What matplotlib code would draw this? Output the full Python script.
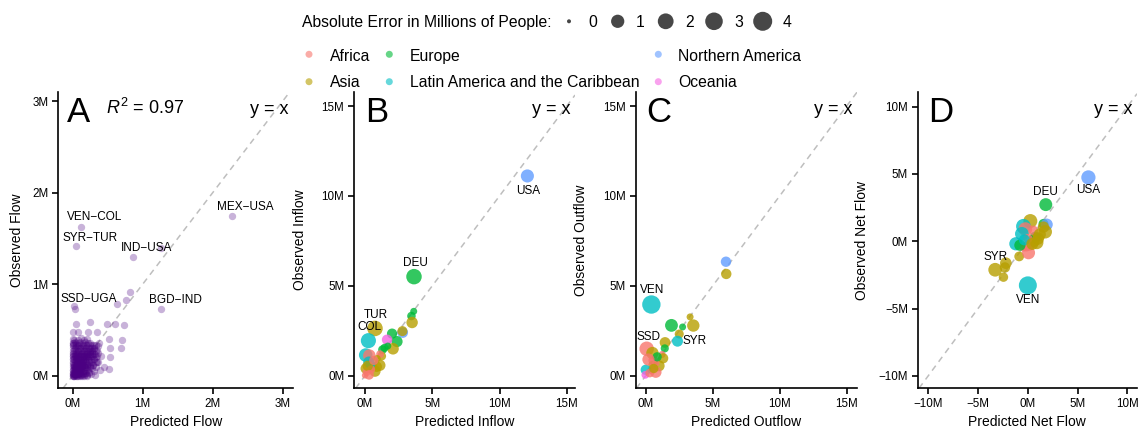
import numpy as np
import matplotlib
matplotlib.use("Agg")
import matplotlib.pyplot as plt

plt.rcParams['font.family'] = ['Liberation Sans', 'DejaVu Sans']
plt.rcParams['mathtext.fontset'] = 'custom'
plt.rcParams['mathtext.rm'] = 'Liberation Sans'
plt.rcParams['mathtext.it'] = 'Liberation Sans:italic'

# ---------------- data ----------------
regions = ["Africa", "Asia", "Europe", "Latin America and the Caribbean",
           "Northern America", "Oceania"]
region_colors = ["#F8766D", "#B79F00", "#00BA38", "#00BFC4", "#619CFF", "#F564E3"]
size_breaks = [0, 1, 2, 3, 4]

# Panel A: bilateral flows (millions)
a_pred = [2.27, 0.114, 0.047, 0.86, 1.26, 0.82, 0.76, 0.63, 0.02, 0.03, 1.26,
          0.04, 0.25, 0.49, 0.61, 0.73, 0.01, 0.07, 0.22, 0.34, 0.52, 0.70, 0.69,
          0.53, 0.53, 0.52, 0.34, 0.00, 0.45,
          0.00, 0.01, 0.02, 0.00, 0.03, 0.02, 0.05, 0.04, 0.06, 0.01, 0.08, 0.07,
          0.03, 0.10, 0.09, 0.05, 0.11, 0.12, 0.08, 0.02, 0.14, 0.13, 0.10, 0.04,
          0.16, 0.15, 0.12, 0.06, 0.00, 0.18, 0.17, 0.18, 0.14, 0.08, 0.01, 0.20,
          0.21, 0.20, 0.21, 0.16, 0.10, 0.03, 0.23, 0.24, 0.23, 0.24, 0.19, 0.12,
          0.05, 0.00, 0.26, 0.27, 0.26, 0.27, 0.27, 0.22, 0.15, 0.08, 0.02, 0.30,
          0.29, 0.30, 0.30, 0.30, 0.25, 0.18, 0.11, 0.04, 0.32, 0.33, 0.33, 0.34,
          0.33, 0.28, 0.21, 0.14, 0.07, 0.00, 0.36, 0.36, 0.36, 0.24, 0.17, 0.10,
          0.03, 0.39, 0.40, 0.00, 0.12, 0.20, 0.38,
          0.01, 0.03, 0.02, 0.04, 0.03, 0.06, 0.05, 0.07, 0.09, 0.10, 0.06, 0.12,
          0.13, 0.11, 0.15, 0.17, 0.08, 0.04, 0.02, 0.09, 0.19, 0.14, 0.22, 0.18,
          0.25, 0.05, 0.07, 0.01, 0.12, 0.16]
a_obs = [1.74, 1.63, 1.42, 1.30, 0.73, 0.91, 0.83, 0.78, 0.76, 0.73, 1.40,
         0.57, 0.59, 0.57, 0.56, 0.55, 0.48, 0.48, 0.475, 0.475, 0.40, 0.39, 0.30,
         0.30, 0.20, 0.07, 0.15, 0.36, 0.10,
         0.00, 0.01, 0.00, 0.02, 0.02, 0.04, 0.01, 0.05, 0.03, 0.06, 0.02, 0.06,
         0.08, 0.01, 0.05, 0.09, 0.04, 0.08, 0.10, 0.11, 0.02, 0.11, 0.13, 0.13,
         0.05, 0.12, 0.15, 0.15, 0.14, 0.03, 0.09, 0.16, 0.18, 0.18, 0.18, 0.01,
         0.07, 0.13, 0.20, 0.21, 0.21, 0.21, 0.04, 0.11, 0.17, 0.24, 0.24, 0.24,
         0.24, 0.25, 0.02, 0.08, 0.15, 0.21, 0.27, 0.27, 0.27, 0.27, 0.28, 0.05,
         0.12, 0.18, 0.24, 0.30, 0.30, 0.30, 0.30, 0.31, 0.01, 0.10, 0.20, 0.28,
         0.33, 0.33, 0.33, 0.34, 0.34, 0.33, 0.15, 0.25, 0.32, 0.36, 0.37, 0.37,
         0.37, 0.06, 0.22, 0.40, 0.41, 0.40, 0.36,
         0.03, 0.01, 0.02, 0.03, 0.05, 0.06, 0.04, 0.09, 0.07, 0.10, 0.12, 0.06,
         0.14, 0.17, 0.15, 0.12, 0.14, 0.17, 0.09, 0.02, 0.19, 0.22, 0.22, 0.27,
         0.26, 0.20, 0.23, 0.22, 0.01, 0.01]
# dense core of small corridors, read row by row (observed value, predicted values)
a_core_rows = [
    (0.00, [0.00, 0.02, 0.04, 0.06, 0.08, 0.10, 0.13, 0.16, 0.20]),
    (0.03, [0.01, 0.03, 0.05, 0.07, 0.09, 0.12, 0.15, 0.19, 0.23]),
    (0.06, [0.00, 0.02, 0.04, 0.06, 0.08, 0.11, 0.14, 0.18, 0.22]),
    (0.09, [0.01, 0.03, 0.05, 0.08, 0.10, 0.13, 0.17, 0.21, 0.25]),
    (0.12, [0.00, 0.02, 0.05, 0.07, 0.10, 0.13, 0.16, 0.20, 0.24, 0.29]),
    (0.15, [0.01, 0.03, 0.06, 0.09, 0.12, 0.15, 0.19, 0.23, 0.27, 0.33]),
    (0.18, [0.00, 0.02, 0.05, 0.08, 0.11, 0.15, 0.18, 0.22, 0.26, 0.31]),
    (0.21, [0.01, 0.04, 0.07, 0.10, 0.14, 0.17, 0.21, 0.25, 0.29, 0.34]),
    (0.24, [0.00, 0.03, 0.06, 0.09, 0.13, 0.16, 0.20, 0.24, 0.28, 0.32]),
    (0.27, [0.01, 0.04, 0.08, 0.12, 0.16, 0.20, 0.24, 0.28, 0.33]),
    (0.30, [0.00, 0.03, 0.07, 0.11, 0.15, 0.19, 0.23, 0.27, 0.31]),
    (0.33, [0.01, 0.05, 0.09, 0.14, 0.19, 0.25, 0.30]),
    (0.36, [0.00, 0.04, 0.09, 0.15, 0.22]),
    (0.39, [0.02, 0.08, 0.16]),
]
a_label_text = ["VEN\u2212COL", "SYR\u2212TUR", "IND\u2212USA", "MEX\u2212USA",
                "SSD\u2212UGA", "BGD\u2212IND"]
a_label_x = [0.31, 0.247, 1.058, 2.472, 0.223, 1.461]
a_label_y = [1.735, 1.505, 1.396, 1.840, 0.840, 0.825]

# Panel B: inflow
b_pred = [12.07, 3.64, 0.74, 0.25, 3.62, 3.45, 3.50, 2.80, 2.78, 2.01, 2.38, 1.64,
          2.08, 1.69, 1.30, 1.24, 1.12, 0.05, 0.32, 0.28, 0.90, 0.87, 1.10, 0.60,
          0.05, 0.12, 0.00, 0.74, 0.40, 0.45, 0.20, 1.45, 0.65, 0.30]
b_obs = [11.11, 5.51, 2.63, 1.95, 3.58, 3.32, 2.96, 2.40, 2.48, 2.34, 1.90, 2.00,
         1.50, 1.65, 1.45, 1.09, 1.20, 1.15, 1.12, 0.76, 0.95, 0.50, 0.58, 0.48,
         0.40, 0.20, 0.02, 0.25, 0.65, 0.35, 0.55, 1.55, 0.85, 0.05]
b_region = ["Northern America", "Europe", "Asia", "Latin America and the Caribbean",
            "Europe", "Europe", "Asia", "Northern America", "Asia", "Europe", "Europe",
            "Oceania", "Asia", "Europe", "Europe", "Asia", "Africa",
            "Latin America and the Caribbean", "Africa", "Latin America and the Caribbean",
            "Asia", "Asia", "Asia", "Asia", "Asia", "Africa", "Africa", "Asia",
            "Latin America and the Caribbean", "Africa", "Asia", "Europe", "Africa", "Africa"]
b_label_text = ["USA", "DEU", "TUR", "COL"]
b_label_x = [12.14, 3.72, 0.82, 0.32]
b_label_y = [10.29, 6.29, 3.37, 2.72]

# Panel C: outflow
c_pred = [5.99, 6.01, 0.42, 1.92, 2.75, 3.31, 3.55, 2.50, 2.37, 1.44, 1.42, 0.07,
          0.50, 1.22, 1.30, 0.57, 0.50, 1.00, 0.75, 0.45, 0.00, -0.03, 0.75, 0.30,
          0.85, 0.20, 0.60]
c_obs = [6.34, 5.66, 3.96, 2.80, 2.71, 3.27, 2.79, 2.32, 1.92, 1.85, 1.52, 1.50,
         1.26, 1.18, 0.97, 0.85, 0.60, 0.55, 0.70, 0.32, 0.33, 0.05, 0.20, 0.15,
         1.05, 0.90, 0.40]
c_region = ["Northern America", "Asia", "Latin America and the Caribbean", "Europe",
            "Europe", "Asia", "Asia", "Asia", "Latin America and the Caribbean", "Asia",
            "Europe", "Africa", "Asia", "Africa", "Asia", "Africa", "Asia", "Asia",
            "Africa", "Africa", "Latin America and the Caribbean", "Oceania", "Africa",
            "Africa", "Europe", "Africa", "Asia"]
c_label_text = ["VEN", "SSD", "SYR"]
c_label_x = [0.49, 0.20, 3.68]
c_label_y = [4.77, 2.17, 1.93]

# Panel D: net flow
d_pred = [6.08, 1.80, 0.00, -3.28, -2.21, -2.30, -2.45, -0.87, -1.20, 0.07, 0.25,
          -0.44, -0.25, 1.57, 1.90, 1.75, 1.57, 0.73, 0.60, 0.55, -0.15, -0.45, 0.15,
          -0.60, 1.00, 0.30, -0.80, 0.90, 0.00, -0.35, 0.45, 1.20]
d_obs = [4.74, 2.72, -3.28, -2.12, -1.63, -1.95, -2.67, -1.13, -0.19, -0.86, 1.50,
         1.11, 0.90, 1.29, 1.24, 0.70, 1.05, 0.30, 0.00, 0.80, -0.40, -0.50, -0.30,
         0.55, 0.20, 0.30, -0.30, -0.10, 0.20, 0.10, -0.20, 0.50]
d_region = ["Northern America", "Europe", "Latin America and the Caribbean", "Asia",
            "Asia", "Asia", "Asia", "Asia", "Latin America and the Caribbean", "Africa",
            "Asia", "Latin America and the Caribbean", "Africa", "Europe",
            "Northern America", "Asia", "Asia", "Europe", "Asia", "Africa", "Africa",
            "Africa", "Africa", "Latin America and the Caribbean", "Asia", "Europe",
            "Europe", "Asia", "Africa", "Latin America and the Caribbean", "Asia", "Asia"]
d_label_text = ["USA", "DEU", "SYR", "VEN"]
d_label_x = [6.08, 1.74, -3.28, 0.00]
d_label_y = [3.81, 3.68, -1.18, -4.35]

# ---------------- figure ----------------
W, H = 1139, 429
fig = plt.figure(figsize=(W / 100, H / 100), dpi=100)
cmap = dict(zip(regions, region_colors))


def px_axes(l, r, t, b):
    return fig.add_axes([l / W, 1 - b / H, (r - l) / W, (b - t) / H])


def size_of(err):
    e = np.clip(np.abs(np.asarray(err, dtype=float)), 0, 4)
    d_px = 4.0 + 15.0 * (e / 4.0) ** 0.35
    return (d_px * 0.72) ** 2


def fmt(v):
    s = f"{int(v)}M"
    return s.replace("-", "\u2212")


def style(ax, xlim, ylim, ticks):
    ax.set_xlim(*xlim)
    ax.set_ylim(*ylim)
    ax.set_xticks(ticks)
    ax.set_yticks(ticks)
    ax.set_xticklabels([fmt(t) for t in ticks])
    ax.set_yticklabels([fmt(t) for t in ticks])
    for s in ["top", "right"]:
        ax.spines[s].set_visible(False)
    for s in ["left", "bottom"]:
        ax.spines[s].set_linewidth(1.2)
    ax.tick_params(length=4, width=1.2, pad=3, labelsize=8.4, colors="black")
    ax.axline((0, 0), (1, 1), color="#BEBEBE", lw=1.1, ls=(0, (4, 3.2)), zorder=1)


panels = [
    dict(l=58.3, r=293, xlim=(-0.206, 3.147), ylim=(-0.138, 3.10), ticks=[0, 1, 2, 3],
         xl="Predicted Flow", yl="Observed Flow", ylx=17.5, letter="A", letx=66.7),
    dict(l=354, r=575, xlim=(-0.82, 15.61), ylim=(-0.70, 15.78), ticks=[0, 5, 10, 15],
         xl="Predicted Inflow", yl="Observed Inflow", ylx=299.5, letter="B", letx=365),
    dict(l=635.7, r=857, xlim=(-0.75, 15.77), ylim=(-0.70, 15.78), ticks=[0, 5, 10, 15],
         xl="Predicted Outflow", yl="Observed Outflow", ylx=581, letter="C", letx=646.7),
    dict(l=917.7, r=1137, xlim=(-11.06, 10.96), ylim=(-10.93, 11.09),
         ticks=[-10, -5, 0, 5, 10],
         xl="Predicted Net Flow", yl="Observed Net Flow", ylx=862.5, letter="D", letx=928.3),
]
top, bottom = 92, 388.3

axes = []
for p in panels:
    ax = px_axes(p["l"], p["r"], top, bottom)
    style(ax, p["xlim"], p["ylim"], p["ticks"])
    axes.append(ax)
    fig.text((p["l"] + p["r"]) / 2 / W, 1 - 426.5 / H, p["xl"], ha="center",
             va="baseline", fontsize=10)
    fig.text(p["ylx"] / W, 1 - (top + bottom) / 2 / H, p["yl"], ha="center",
             va="center", rotation=90, fontsize=10)
    fig.text(p["letx"] / W, 1 - 121.7 / H, p["letter"], ha="left", va="baseline",
             fontsize=25)
    fig.text((p["r"] - 4) / W, 1 - 113.5 / H, "y = x", ha="right", va="baseline",
             fontsize=13)

fig.text(106 / W, 1 - 113.5 / H, r"$R^2$ = 0.97", ha="left", va="baseline", fontsize=13)

# Panel A
axA = axes[0]
core_x = [x for _, xs in a_core_rows for x in xs]
core_y = [y for y, xs in a_core_rows for _ in xs]
axA.scatter(list(a_pred) + core_x, list(a_obs) + core_y, s=28, color="#4B0082",
            alpha=0.3, linewidths=0, zorder=2)
for t, x, y in zip(a_label_text, a_label_x, a_label_y):
    axA.text(x, y, t, ha="center", va="center", fontsize=8.5, zorder=3)

# Panels B-D
for ax, pr, ob, rg, lt, lx, ly in [
    (axes[1], b_pred, b_obs, b_region, b_label_text, b_label_x, b_label_y),
    (axes[2], c_pred, c_obs, c_region, c_label_text, c_label_x, c_label_y),
    (axes[3], d_pred, d_obs, d_region, d_label_text, d_label_x, d_label_y),
]:
    err = np.abs(np.array(pr) - np.array(ob))
    ax.scatter(pr, ob, s=size_of(err), c=[cmap[r] for r in rg], alpha=0.8,
               linewidths=0, zorder=2)
    for t, x, y in zip(lt, lx, ly):
        ax.text(x, y, t, ha="center", va="center", fontsize=8.5, zorder=3)

# ---------------- legends (overlay in pixel coords) ----------------
lg = fig.add_axes([0, 0, 1, 1], facecolor="none")
lg.set_xlim(0, W)
lg.set_ylim(H, 0)
lg.axis("off")

lg.text(302, 26.7, "Absolute Error in Millions of People:", ha="left",
        va="baseline", fontsize=11.3)
size_dot_x = [569, 617.7, 665.7, 714, 762.7]
size_lab_x = [592.7, 640, 690, 738.3, 786.7]
lg.scatter(size_dot_x, [21.3] * 5, s=size_of(size_breaks), color="#333333",
           alpha=0.9, linewidths=0)
for x, b in zip(size_lab_x, size_breaks):
    lg.text(x, 26.7, str(b), ha="center", va="baseline", fontsize=11.3)

col_dot_x = [309, 309, 389.3, 389.3, 658.3, 658.3]
col_txt_x = [330, 330, 410, 410, 678.3, 678.3]
row_dot_y = [54.3, 81.7] * 3
row_txt_y = [61, 87.3] * 3
lg.scatter(col_dot_x, row_dot_y, s=(7 * 0.72) ** 2, c=region_colors, alpha=0.6,
           linewidths=0)
for x, y, name in zip(col_txt_x, row_txt_y, regions):
    lg.text(x, y, name, ha="left", va="baseline", fontsize=11.3)

fig.savefig("out.png", dpi=100)
